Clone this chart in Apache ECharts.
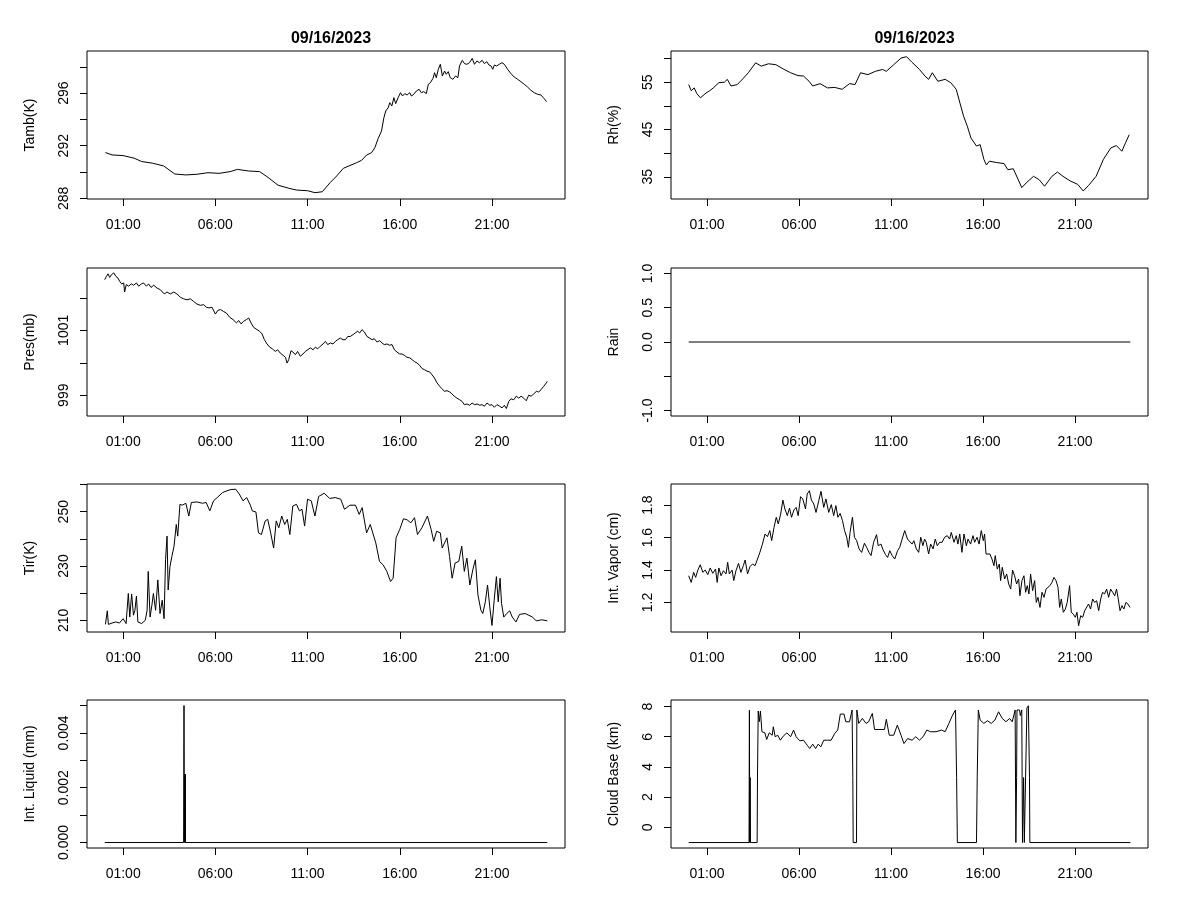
<!DOCTYPE html>
<html><head><meta charset="utf-8">
<script src="https://cdn.jsdelivr.net/npm/echarts@6/dist/echarts.min.js"></script>
<style>html,body{margin:0;padding:0;background:#fff}#c{width:1200px;height:900px}</style>
</head><body><div id="c"></div>
<script>
const dateTitle = "09/16/2023";
const xTickHours = [1, 6, 11, 16, 21];

const tamb = [[0.04,291.48],[0.4,291.3],[1.0,291.25],[1.6,291.05],[2.0,290.8],[2.6,290.67],[3.2,290.46],[3.8,289.85],[4.4,289.78],[5.0,289.83],[5.6,289.95],[6.2,289.9],[6.8,290.03],[7.2,290.2],[7.8,290.08],[8.4,290.03],[8.8,289.65],[9.4,289.0],[10.0,288.76],[10.4,288.63],[11.0,288.58],[11.4,288.43],[11.8,288.5],[12.22,289.19],[12.58,289.7],[12.94,290.28],[13.3,290.5],[13.66,290.71],[13.93,290.89],[14.2,291.29],[14.47,291.47],[14.65,291.85],[14.83,292.56],[15.01,293.12],[15.14,294.13],[15.24,294.64],[15.37,294.89],[15.46,295.27],[15.57,295.02],[15.68,295.65],[15.78,295.2],[15.91,295.65],[16.04,296.03],[16.15,295.78],[16.27,295.96],[16.4,295.86],[16.54,296.03],[16.63,295.78],[16.76,295.91],[16.9,296.16],[17.05,296.29],[17.17,296.03],[17.3,296.11],[17.44,295.96],[17.55,296.67],[17.66,296.79],[17.8,297.12],[17.89,297.55],[17.98,297.17],[18.09,297.81],[18.2,298.19],[18.31,297.3],[18.43,297.68],[18.52,297.43],[18.63,297.63],[18.74,297.17],[18.88,297.05],[19.03,297.3],[19.15,297.17],[19.24,298.06],[19.39,298.49],[19.51,298.24],[19.64,298.19],[19.78,298.31],[19.93,298.64],[20.05,298.19],[20.18,298.44],[20.32,298.31],[20.47,298.49],[20.59,298.24],[20.72,298.39],[20.83,298.14],[20.95,298.06],[21.04,297.81],[21.13,298.14],[21.25,298.06],[21.4,298.19],[21.54,298.31],[21.67,298.19],[21.85,297.81],[22.03,297.48],[22.21,297.22],[22.39,297.05],[22.57,296.87],[22.75,296.67],[22.93,296.46],[23.11,296.21],[23.29,296.03],[23.47,295.91],[23.65,295.86],[23.83,295.58],[23.96,295.35]];

const rh = [[0,54.5],[0.14,53.2],[0.3,53.8],[0.44,52.6],[0.64,51.7],[0.94,52.7],[1.14,53.2],[1.34,53.8],[1.64,54.9],[1.94,55.0],[2.1,55.6],[2.3,54.2],[2.64,54.5],[2.94,55.7],[3.24,57.0],[3.64,59.1],[3.94,58.4],[4.34,58.9],[4.74,58.7],[5.14,57.8],[5.54,57.0],[5.94,56.4],[6.24,56.3],[6.54,55.2],[6.74,54.2],[7.14,54.7],[7.54,53.8],[7.94,53.9],[8.34,53.5],[8.74,54.7],[9.04,54.5],[9.34,57.0],[9.74,56.6],[10.14,57.3],[10.54,57.7],[10.74,57.3],[11.14,58.7],[11.54,60.1],[11.84,60.4],[12.14,59.2],[12.54,57.7],[12.84,56.3],[13.04,55.6],[13.24,57.0],[13.54,55.2],[13.94,55.6],[14.24,54.9],[14.54,53.5],[14.74,50.6],[14.94,47.8],[15.14,45.7],[15.34,43.2],[15.64,41.5],[15.84,41.8],[16.04,38.7],[16.18,37.5],[16.34,38.3],[16.74,38.0],[17.14,37.8],[17.34,36.5],[17.64,36.7],[17.94,34.1],[18.1,32.7],[18.34,33.7],[18.74,35.1],[19.04,34.4],[19.34,33.0],[19.74,35.1],[20.04,36.0],[20.34,35.1],[20.74,34.1],[21.14,33.4],[21.44,32.0],[21.74,33.2],[22.14,35.1],[22.54,38.7],[22.94,41.1],[23.24,41.6],[23.54,40.4],[23.74,42.2],[23.94,43.9]];

const pres = [[0.0,1002.56],[0.09,1002.66],[0.18,1002.74],[0.27,1002.63],[0.36,1002.71],[0.49,1002.77],[0.61,1002.66],[0.72,1002.61],[0.81,1002.51],[0.92,1002.43],[1.03,1002.46],[1.08,1002.18],[1.17,1002.41],[1.3,1002.36],[1.44,1002.43],[1.57,1002.39],[1.72,1002.46],[1.84,1002.36],[1.99,1002.43],[2.11,1002.46],[2.26,1002.36],[2.38,1002.43],[2.51,1002.32],[2.66,1002.39],[2.84,1002.3],[3.02,1002.25],[3.23,1002.12],[3.38,1002.18],[3.56,1002.12],[3.74,1002.18],[3.92,1002.12],[4.1,1002.02],[4.28,1001.97],[4.46,1001.94],[4.64,1001.97],[4.82,1001.89],[5.0,1001.81],[5.19,1001.77],[5.37,1001.79],[5.51,1001.71],[5.66,1001.69],[5.82,1001.71],[6.0,1001.5],[6.13,1001.61],[6.27,1001.64],[6.45,1001.58],[6.6,1001.53],[6.78,1001.4],[6.96,1001.33],[7.14,1001.23],[7.27,1001.3],[7.39,1001.2],[7.54,1001.28],[7.68,1001.33],[7.81,1001.38],[7.93,1001.23],[8.08,1001.09],[8.26,1001.02],[8.4,1000.97],[8.53,1000.89],[8.66,1000.71],[8.8,1000.58],[8.95,1000.48],[9.09,1000.43],[9.25,1000.35],[9.38,1000.4],[9.52,1000.3],[9.67,1000.23],[9.8,1000.17],[9.89,999.99],[9.98,1000.1],[10.1,1000.37],[10.21,1000.33],[10.34,1000.25],[10.46,1000.35],[10.61,1000.2],[10.75,1000.27],[10.88,1000.35],[11.01,1000.4],[11.15,1000.46],[11.3,1000.4],[11.42,1000.48],[11.55,1000.43],[11.69,1000.51],[11.84,1000.58],[11.97,1000.66],[12.09,1000.56],[12.24,1000.61],[12.38,1000.58],[12.51,1000.66],[12.63,1000.71],[12.78,1000.76],[12.92,1000.71],[13.05,1000.71],[13.18,1000.81],[13.32,1000.81],[13.47,1000.87],[13.59,1000.92],[13.72,1000.97],[13.83,1000.92],[13.95,1001.02],[14.08,1000.95],[14.22,1000.81],[14.37,1000.76],[14.5,1000.71],[14.62,1000.74],[14.77,1000.64],[14.91,1000.68],[15.04,1000.61],[15.16,1000.56],[15.31,1000.58],[15.45,1000.54],[15.58,1000.56],[15.71,1000.4],[15.85,1000.33],[16.0,1000.27],[16.12,1000.27],[16.25,1000.23],[16.39,1000.17],[16.54,1000.15],[16.66,1000.1],[16.79,1000.04],[16.94,999.99],[17.08,999.92],[17.21,999.82],[17.33,999.79],[17.48,999.74],[17.62,999.72],[17.75,999.63],[17.88,999.53],[18.02,999.38],[18.17,999.27],[18.29,999.2],[18.42,999.12],[18.56,999.14],[18.71,999.1],[18.83,999.04],[18.96,998.97],[19.1,998.91],[19.25,998.86],[19.38,998.81],[19.5,998.71],[19.65,998.73],[19.79,998.69],[19.92,998.76],[20.05,998.71],[20.19,998.73],[20.34,998.69],[20.46,998.71],[20.59,998.66],[20.73,998.76],[20.88,998.69],[21.0,998.71],[21.13,998.63],[21.27,998.71],[21.42,998.66],[21.55,998.61],[21.67,998.69],[21.78,998.59],[21.91,998.81],[22.03,998.89],[22.18,998.86],[22.32,998.97],[22.45,998.91],[22.58,998.97],[22.72,998.91],[22.86,998.83],[22.99,999.0],[23.12,998.97],[23.26,999.04],[23.41,999.12],[23.53,999.1],[23.66,999.17],[23.8,999.27],[23.95,999.38],[24.0,999.43]];

const rain = [[0,0],[24,0]];

const tir = [[0.04,208.5],[0.14,213.5],[0.2,208.5],[0.4,209],[0.6,209.4],[0.8,209],[1.0,210.6],[1.16,208.8],[1.28,219.9],[1.36,211.2],[1.46,219.7],[1.56,211.9],[1.64,213.7],[1.72,218.9],[1.8,209.4],[2.0,208.8],[2.2,210],[2.3,213.7],[2.36,228],[2.46,211.2],[2.56,215.6],[2.64,219.9],[2.76,213.7],[2.88,224.9],[3.0,212.5],[3.12,217.4],[3.22,210.6],[3.3,232.3],[3.38,241],[3.44,221.2],[3.54,229.8],[3.64,233.5],[3.76,237.3],[3.88,245.3],[3.96,241],[4.08,252.7],[4.2,252.4],[4.4,253.1],[4.56,248.4],[4.7,253.4],[5.0,253.6],[5.3,253.1],[5.5,253.4],[5.7,250.3],[5.9,254],[6.1,255.2],[6.4,257.1],[6.8,258.1],[7.1,258.3],[7.3,256.5],[7.5,254],[7.7,255.2],[7.9,252.4],[8.0,250.3],[8.2,249.9],[8.34,242.2],[8.5,241.6],[8.7,246.6],[8.84,247.2],[9.0,242.2],[9.16,236.6],[9.3,246.6],[9.44,244.1],[9.6,248.4],[9.76,245.3],[9.9,247.2],[10.04,241.6],[10.2,252.1],[10.4,252.7],[10.56,250.3],[10.7,250.9],[10.84,244.7],[11.0,254.6],[11.2,254],[11.4,248.4],[11.6,255.6],[11.9,256.8],[12.2,254.9],[12.5,255.2],[12.8,254.6],[13.0,250.9],[13.3,252.4],[13.6,252.4],[13.8,249],[13.96,251.5],[14.2,242.2],[14.4,245.3],[14.7,238.5],[14.9,231.7],[15.1,230.4],[15.3,228],[15.5,224.3],[15.64,225.5],[15.8,240.4],[16.0,243.5],[16.2,247.4],[16.4,247],[16.6,245.9],[16.8,247.8],[16.96,241.6],[17.2,244.1],[17.5,248.4],[17.7,243.5],[17.84,239.1],[18.0,242.8],[18.2,242.2],[18.3,236.6],[18.56,240.4],[18.7,233.5],[18.84,225.5],[19.0,231.1],[19.2,231.7],[19.36,237.3],[19.5,228],[19.64,232.9],[19.8,223],[19.96,228.6],[20.1,232.3],[20.24,219.3],[20.4,213.7],[20.5,212.5],[20.64,216.8],[20.76,223],[20.88,215],[21.0,208.1],[21.12,217.4],[21.24,226.1],[21.34,216.8],[21.44,225.5],[21.52,216.2],[21.64,211.2],[21.8,212.5],[21.96,213.5],[22.1,211.2],[22.3,209.4],[22.5,212.2],[22.8,212.5],[23.2,211.2],[23.4,209.8],[23.7,210.2],[24.0,209.8]];

const vapor = [[0.00,1.365],[0.14,1.324],[0.27,1.386],[0.38,1.355],[0.50,1.400],[0.63,1.433],[0.77,1.386],[0.90,1.400],[1.04,1.372],[1.17,1.413],[1.31,1.380],[1.46,1.406],[1.55,1.324],[1.64,1.413],[1.76,1.365],[1.89,1.396],[2.03,1.376],[2.12,1.448],[2.21,1.376],[2.36,1.400],[2.45,1.335],[2.57,1.396],[2.71,1.441],[2.84,1.386],[2.97,1.427],[3.07,1.462],[3.20,1.376],[3.33,1.421],[3.47,1.437],[3.61,1.427],[3.74,1.468],[3.87,1.509],[4.01,1.560],[4.15,1.622],[4.28,1.606],[4.41,1.643],[4.51,1.581],[4.64,1.663],[4.76,1.725],[4.87,1.684],[5.00,1.745],[5.12,1.831],[5.23,1.776],[5.36,1.735],[5.48,1.782],[5.59,1.725],[5.72,1.770],[5.84,1.786],[5.95,1.735],[6.08,1.852],[6.20,1.838],[6.35,1.776],[6.44,1.868],[6.56,1.889],[6.67,1.831],[6.80,1.807],[6.92,1.755],[7.07,1.827],[7.19,1.885],[7.34,1.786],[7.46,1.838],[7.61,1.755],[7.75,1.803],[7.88,1.735],[8.00,1.797],[8.11,1.725],[8.23,1.749],[8.36,1.704],[8.47,1.643],[8.59,1.602],[8.68,1.540],[8.77,1.632],[8.90,1.725],[9.01,1.602],[9.13,1.581],[9.26,1.530],[9.40,1.509],[9.55,1.565],[9.67,1.540],[9.80,1.509],[9.91,1.489],[10.05,1.571],[10.21,1.618],[10.30,1.550],[10.45,1.560],[10.57,1.523],[10.70,1.495],[10.81,1.478],[10.93,1.519],[11.06,1.489],[11.20,1.468],[11.35,1.519],[11.47,1.540],[11.60,1.591],[11.74,1.643],[11.89,1.591],[12.14,1.560],[12.24,1.581],[12.37,1.530],[12.50,1.509],[12.61,1.602],[12.73,1.550],[12.82,1.591],[12.91,1.571],[13.04,1.499],[13.15,1.560],[13.28,1.530],[13.40,1.591],[13.51,1.550],[13.64,1.571],[13.77,1.571],[13.91,1.602],[14.05,1.612],[14.18,1.591],[14.27,1.632],[14.42,1.571],[14.54,1.612],[14.63,1.560],[14.73,1.622],[14.85,1.509],[14.96,1.622],[15.09,1.550],[15.18,1.591],[15.32,1.560],[15.45,1.612],[15.54,1.571],[15.67,1.602],[15.78,1.560],[15.90,1.643],[16.01,1.581],[16.08,1.622],[16.16,1.499],[16.26,1.489],[16.37,1.499],[16.48,1.468],[16.59,1.427],[16.66,1.489],[16.77,1.406],[16.88,1.437],[16.95,1.335],[17.04,1.417],[17.17,1.345],[17.28,1.376],[17.39,1.314],[17.50,1.283],[17.60,1.400],[17.71,1.365],[17.82,1.314],[17.93,1.345],[18.00,1.242],[18.11,1.335],[18.22,1.365],[18.31,1.263],[18.40,1.304],[18.49,1.253],[18.58,1.376],[18.69,1.273],[18.80,1.335],[18.89,1.201],[18.98,1.232],[19.09,1.170],[19.20,1.263],[19.31,1.232],[19.42,1.283],[19.52,1.273],[19.63,1.304],[19.74,1.324],[19.85,1.355],[19.96,1.335],[20.07,1.294],[20.16,1.170],[20.25,1.222],[20.36,1.140],[20.47,1.160],[20.57,1.201],[20.70,1.304],[20.79,1.140],[20.90,1.129],[21.01,1.109],[21.10,1.140],[21.19,1.057],[21.30,1.119],[21.41,1.109],[21.52,1.150],[21.62,1.160],[21.73,1.191],[21.84,1.160],[21.95,1.222],[22.06,1.201],[22.17,1.211],[22.28,1.150],[22.39,1.222],[22.49,1.263],[22.60,1.253],[22.71,1.283],[22.82,1.232],[22.93,1.283],[23.04,1.263],[23.15,1.242],[23.25,1.283],[23.33,1.232],[23.44,1.150],[23.55,1.181],[23.65,1.160],[23.76,1.201],[23.87,1.191],[23.98,1.170]];

const liquid = [[0,0],[4.28,0],[4.30,0.005],[4.32,0],[4.34,0.0025],[4.36,0],[4.37,0.0025],[4.38,0],[24,0]];

const cloud = [[0,-1],[3.28,-1],[3.30,7.75],[3.32,-1],[3.34,3.3],[3.36,-1],[3.72,-1],[3.74,3.4],[3.78,7.7],[3.84,7.0],[3.9,7.7],[3.98,6.33],[4.14,6.26],[4.24,5.82],[4.38,6.26],[4.54,6.1],[4.6,6.66],[4.7,6.0],[4.84,6.1],[4.98,5.77],[5.14,6.04],[5.34,6.26],[5.54,6.0],[5.7,6.44],[5.84,6.0],[6.04,5.73],[6.24,5.77],[6.44,5.44],[6.58,5.22],[6.74,5.51],[6.9,5.22],[7.04,5.51],[7.18,5.33],[7.34,5.77],[7.54,5.77],[7.74,5.77],[7.94,6.22],[8.1,6.44],[8.24,7.5],[8.44,7.5],[8.54,6.99],[8.74,6.99],[8.88,7.77],[8.92,3.3],[8.94,-1],[9.12,-1],[9.14,7.77],[9.24,6.88],[9.44,7.21],[9.64,6.88],[9.78,6.99],[9.98,7.54],[10.1,6.48],[10.34,6.48],[10.64,6.48],[10.74,7.15],[10.9,6.1],[11.14,6.1],[11.34,6.77],[11.54,6.1],[11.7,5.55],[11.9,5.88],[12.14,5.77],[12.34,6.0],[12.54,5.77],[12.74,6.0],[12.94,6.44],[13.14,6.33],[13.44,6.33],[13.74,6.44],[13.94,6.33],[14.14,6.88],[14.34,7.43],[14.5,7.77],[14.56,3.3],[14.6,-1],[15.64,-1],[15.68,3.3],[15.74,7.77],[15.84,7.1],[16.04,6.88],[16.24,7.06],[16.44,6.88],[16.64,7.1],[16.84,7.65],[17.04,7.21],[17.24,6.99],[17.44,7.21],[17.58,6.99],[17.74,7.77],[17.78,-1],[17.82,3.3],[17.84,7.77],[17.98,7.77],[18.02,7.4],[18.1,7.77],[18.14,-1],[18.2,3.3],[18.24,-1],[18.34,-1],[18.38,7.9],[18.46,8.05],[18.52,3.3],[18.54,-1],[24,-1]];

const tambTicks = [288,290,292,294,296,298], tambLabels = [288,292,296];
const rhTicks = [35,40,45,50,55,60], rhLabels = [35,45,55];
const presTicks = [999,1000,1001,1002], presLabels = [999,1001];
const rainTicks = [-1,-0.5,0,0.5,1], rainLabels = [-1,0,0.5,1];
const tirTicks = [210,220,230,240,250,260], tirLabels = [210,230,250];
const vaporTicks = [1.2,1.4,1.6,1.8], vaporLabels = [1.2,1.4,1.6,1.8];
const liquidTicks = [0,0.001,0.002,0.003,0.004,0.005], liquidLabels = [0,0.002,0.004];
const cloudTicks = [0,2,4,6,8], cloudLabels = [0,2,4,6,8];

const panels = [
  {name:'Tamb(K)', data:tamb, col:0, row:0, min:287.95, max:299.2, ticks:tambTicks, labels:tambLabels, dec:0},
  {name:'Rh(%)', data:rh, col:1, row:0, min:30.3, max:61.6, ticks:rhTicks, labels:rhLabels, dec:0},
  {name:'Pres(mb)', data:pres, col:0, row:1, min:998.36, max:1002.92, ticks:presTicks, labels:presLabels, dec:0},
  {name:'Rain', data:rain, col:1, row:1, min:-1.08, max:1.08, ticks:rainTicks, labels:rainLabels, dec:1},
  {name:'Tir(K)', data:tir, col:0, row:2, min:205.7, max:260.2, ticks:tirTicks, labels:tirLabels, dec:0},
  {name:'Int. Vapor (cm)', data:vapor, col:1, row:2, min:1.0186, max:1.93, ticks:vaporTicks, labels:vaporLabels, dec:1},
  {name:'Int. Liquid (mm)', data:liquid, col:0, row:3, min:-0.0002, max:0.0052, ticks:liquidTicks, labels:liquidLabels, dec:3},
  {name:'Cloud Base (km)', data:cloud, col:1, row:3, min:-1.36, max:8.43, ticks:cloudTicks, labels:cloudLabels, dec:0}
];

const FONT = '"Liberation Sans", Arial, sans-serif';
const colLeft = [87, 671], colWidth = [478, 477];
const rowTop = [51, 268, 484, 700], rowHeight = 148;

const grid = [], xAxis = [], yAxis = [], series = [];
panels.forEach((p, i) => {
  grid.push({left: colLeft[p.col], top: rowTop[p.row], width: colWidth[p.col], height: rowHeight,
    show: true, borderColor: '#000', borderWidth: 1, backgroundColor: 'transparent', containLabel: false});
  xAxis.push({type: 'value', gridIndex: i, min: -0.96, max: 24.96,
    axisLine: {show: false, onZero: false}, splitLine: {show: false},
    axisTick: {show: true, inside: false, length: 7, lineStyle: {color: '#000', width: 1}, customValues: xTickHours},
    axisLabel: {show: true, customValues: xTickHours, margin: 19, color: '#000', fontFamily: FONT, fontSize: 14,
      formatter: v => String(Math.round(v)).padStart(2, '0') + ':00'}});
  yAxis.push({type: 'value', gridIndex: i, min: p.min, max: p.max,
    name: p.name, nameLocation: 'middle', nameRotate: 90, nameGap: 50,
    nameTextStyle: {color: '#000', fontFamily: FONT, fontSize: 14},
    axisLine: {show: false, onZero: false}, splitLine: {show: false},
    axisTick: {show: true, inside: false, length: 7, lineStyle: {color: '#000', width: 1}, customValues: p.ticks},
    axisLabel: {show: true, customValues: p.labels, rotate: 90, margin: 16, color: '#000', fontFamily: FONT, fontSize: 14,
      formatter: v => Number(v).toFixed(p.dec)}});
  series.push({type: 'line', xAxisIndex: i, yAxisIndex: i, data: p.data, showSymbol: false, symbol: 'none',
    lineStyle: {color: '#000', width: 1}, animation: false, silent: true});
});

const chart = echarts.init(document.getElementById('c'), null, {renderer: 'canvas'});
chart.setOption({
  backgroundColor: '#fff',
  animation: false,
  title: [
    {text: dateTitle, left: colLeft[0] + colWidth[0] / 2, top: 26, textAlign: 'center',
     textStyle: {fontFamily: FONT, fontWeight: 'bold', fontSize: 16, color: '#000'}},
    {text: dateTitle, left: colLeft[1] + colWidth[1] / 2, top: 26, textAlign: 'center',
     textStyle: {fontFamily: FONT, fontWeight: 'bold', fontSize: 16, color: '#000'}}
  ],
  grid, xAxis, yAxis, series
});
</script></body></html>
